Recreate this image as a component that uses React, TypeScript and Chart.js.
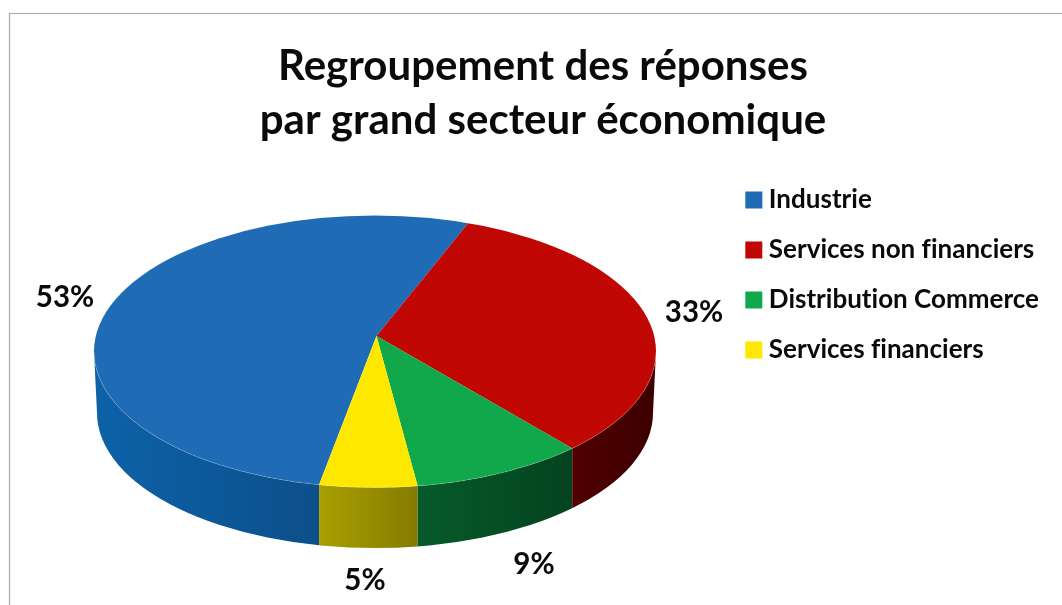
import React, { useEffect, useRef } from "react";
import { Chart, registerables } from "chart.js";

Chart.register(...registerables);

const titleLines = ["Regroupement des réponses", "par grand secteur économique"];
const categories = ["Industrie", "Services non financiers", "Distribution Commerce", "Services financiers"];
const shares = [53, 33, 9, 5];
const topColors = ["#1F6BB5", "#C00703", "#10A84A", "#FFE800"];
const wallStart = ["#0D62A8", "#500000", "#075A2B", "#A8A000"];
const wallEnd = ["#0C4F8A", "#3E0000", "#03431F", "#857B00"];
const labelCenters = [[65, 297], [694, 312], [534, 564], [365, 580]];

const FONT = "Lato, Carlito, 'Noto Sans', sans-serif";
const APEX = { x: 376.5, y: 336 };
const TILT = 0.48;
const TOP = { cx: 375, cy: 351.5, rx: 281, ry: 136 };
const BASE = { cx: 375, cy: 413, rx: 278, ry: 135 };
const TAU = Math.PI * 2;

function rim(angle: number) {
  const dx = Math.cos(angle);
  const dy = TILT * Math.sin(angle);
  const ox = APEX.x - TOP.cx;
  const oy = APEX.y - TOP.cy;
  const a = (dx * dx) / (TOP.rx * TOP.rx) + (dy * dy) / (TOP.ry * TOP.ry);
  const b = 2 * ((ox * dx) / (TOP.rx * TOP.rx) + (oy * dy) / (TOP.ry * TOP.ry));
  const c = (ox * ox) / (TOP.rx * TOP.rx) + (oy * oy) / (TOP.ry * TOP.ry) - 1;
  const t = (-b + Math.sqrt(b * b - 4 * a * c)) / (2 * a);
  return { x: APEX.x + t * dx, y: APEX.y + t * dy };
}

const pie3d = {
  id: "pie3d",
  beforeLayout(chart: any) {
    chart.ctx.letterSpacing = "0.01px";
  },
  beforeDraw(chart: any) {
    const { ctx, width, height } = chart;
    ctx.letterSpacing = "0.01px";
    ctx.save();
    ctx.strokeStyle = "#A8A8A8";
    ctx.lineWidth = 1.2;
    ctx.beginPath();
    ctx.moveTo(9.5, height);
    ctx.lineTo(9.5, 13.5);
    ctx.lineTo(width, 13.5);
    ctx.stroke();
    ctx.restore();
  },
  beforeDatasetsDraw(chart: any) {
    const { ctx, height } = chart;
    const arcs = chart.getDatasetMeta(0).data;

    // side wall, split where the slices' edges meet the rim
    const cuts = arcs
      .map((a: any) => rim(a.startAngle))
      .filter((p: any) => p.y > TOP.cy)
      .map((p: any) => p.x)
      .sort((p: number, q: number) => p - q);
    const xs = [TOP.cx - TOP.rx, ...cuts, TOP.cx + TOP.rx];
    for (let i = 0; i < xs.length - 1; i++) {
      const mx = (xs[i] + xs[i + 1]) / 2;
      const my = TOP.cy + TOP.ry * Math.sqrt(1 - ((mx - TOP.cx) / TOP.rx) ** 2);
      const ang = Math.atan2((my - APEX.y) / TILT, mx - APEX.x);
      const idx = arcs.findIndex((a: any) => {
        const span = a.endAngle - a.startAngle;
        const d = ((ang - a.startAngle) % TAU + TAU) % TAU;
        return d <= span;
      });
      const g = ctx.createLinearGradient(xs[i], 0, xs[i + 1], 0);
      g.addColorStop(0, wallStart[idx]);
      g.addColorStop(1, wallEnd[idx]);
      ctx.save();
      ctx.beginPath();
      ctx.rect(xs[i], 0, xs[i + 1] - xs[i], height);
      ctx.clip();
      ctx.fillStyle = g;
      ctx.beginPath();
      ctx.ellipse(TOP.cx, TOP.cy, TOP.rx, TOP.ry, 0, 0, Math.PI);
      ctx.ellipse(BASE.cx, BASE.cy, BASE.rx, BASE.ry, 0, Math.PI, 0, true);
      ctx.closePath();
      ctx.fill();
      ctx.restore();
    }

    // the library's arcs, flattened about the off-centre apex and cut by the rim
    const a0 = arcs[0];
    const k = 400 / a0.outerRadius;
    ctx.save();
    ctx.beginPath();
    ctx.ellipse(TOP.cx, TOP.cy, TOP.rx, TOP.ry, 0, 0, TAU);
    ctx.clip();
    ctx.translate(APEX.x, APEX.y);
    ctx.scale(k, k * TILT);
    ctx.translate(-a0.x, -a0.y);
  },
  afterDatasetsDraw(chart: any) {
    const { ctx } = chart;
    ctx.restore();
    ctx.save();
    ctx.strokeStyle = "rgba(255,255,255,0.18)";
    ctx.lineWidth = 1;
    ctx.beginPath();
    ctx.ellipse(TOP.cx, TOP.cy, TOP.rx, TOP.ry, 0, 0, Math.PI);
    ctx.stroke();
    ctx.fillStyle = "#0A0A0A";
    ctx.font = `700 29.5px ${FONT}`;
    ctx.textAlign = "center";
    ctx.textBaseline = "middle";
    shares.forEach((v, i) => {
      ctx.fillText(`${v}%`, labelCenters[i][0], labelCenters[i][1]);
    });
    ctx.restore();
  },
};

export default function App() {
  const ref = useRef<HTMLCanvasElement>(null);
  useEffect(() => {
    const chart = new Chart(ref.current!, {
      type: "pie",
      data: {
        labels: categories,
        datasets: [
          {
            data: shares,
            backgroundColor: topColors,
            borderWidth: 0,
            clip: false,
          } as any,
        ],
      },
      options: {
        responsive: false,
        animation: false,
        rotation: 190.5,
        layout: { padding: { left: 37, right: 13, top: 39, bottom: 94 } },
        plugins: {
          title: {
            display: true,
            text: titleLines,
            color: "#0A0A0A",
            font: { family: FONT, size: 42, weight: "bold", lineHeight: 1.29 },
            padding: { top: 0, bottom: 10 },
          },
          legend: {
            position: "right",
            labels: {
              usePointStyle: true,
              pointStyle: "rect",
              boxWidth: 4,
              boxHeight: 17,
              padding: 24,
              color: "#0A0A0A",
              font: { family: FONT, size: 26, weight: "bold" },
            },
          },
          tooltip: { enabled: false },
        },
      },
      plugins: [pie3d],
    } as any);
    return () => chart.destroy();
  }, []);
  return (
    <canvas
      ref={ref}
      width={1062}
      height={605}
      style={{ position: "absolute", left: 0, top: 0, display: "block", filter: "blur(0.6px)" }}
    />
  );
}
